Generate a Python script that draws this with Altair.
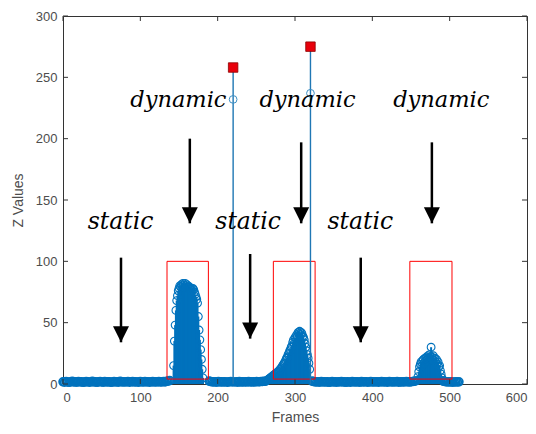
import altair as alt
import pandas as pd

BLUE = "#0072BD"

# ---- data ----
static_a_start, static_a_step = 0, 2
static_a = [1.8, 1.5, 2.0, 1.7, 1.4, 1.9, 2.2, 1.6, 1.8, 1.5,
            2.1, 1.7, 1.9, 1.4, 1.6, 2.0, 1.8, 1.5, 1.7, 2.2,
            1.6, 1.9, 1.4, 1.8, 2.0, 1.7, 1.5, 2.1, 1.6, 1.9,
            1.8, 1.4, 1.7, 2.0, 1.6, 1.9, 1.5, 2.2, 1.8, 1.6,
            1.9, 1.7, 2.0, 1.5, 1.8, 2.1, 1.6, 1.9, 1.7, 1.5,
            2.0, 1.8, 1.6, 2.1, 1.7, 1.9, 1.5, 1.8, 2.0, 1.6,
            1.9, 1.7, 2.1, 1.6, 1.8, 2.0, 1.7, 2.2, 2.4, 2.8]

dyn1_start = 143
dyn1 = [15, 35, 48, 60, 68, 72, 76, 78, 80, 79,
        81, 80, 82, 81, 79, 82, 80, 81, 79, 80,
        78, 79, 77, 78, 76, 78, 77, 75, 73, 71,
        69, 66, 55, 44, 36, 28, 20, 12, 5]

static_b_start, static_b_step = 189, 2
static_b = [2.4, 2.0, 1.8, 1.6, 1.9, 1.5, 2.0, 1.7, 1.8, 1.6, 1.9, 1.7, 1.5, 1.8, 2.0, 1.7]

spike_frames = [220, 320]
spike_circle = [232, 237]
spike_square = [258, 275]

static_c_start, static_c_step = 222, 2
static_c = [1.7, 1.9, 1.5, 2.0, 1.6, 1.8, 1.7, 1.9, 1.6, 2.0,
            1.8, 1.6, 1.9, 1.7, 2.0, 1.8, 1.9, 2.0, 2.1, 2.2, 2.3]

ramp_start = 263
ramp = [2.5, 3, 3.5, 4, 4.5, 5, 5.5, 6, 6.5, 7,
        7.5, 8, 8.5, 9, 9.5, 10, 10.5, 11.5, 12, 13,
        14, 15, 16, 17, 18, 19.5, 21, 22, 24, 25,
        27, 28, 30, 31, 34, 36, 33, 38, 37, 40,
        39, 42, 41, 43, 40, 42, 41, 39, 38, 36,
        33, 30, 27, 24, 21, 17, 12]

static_d_start, static_d_step = 322, 2
static_d = [2.4, 2.0, 1.8, 1.6, 1.9, 1.5, 2.0, 1.7, 1.8, 1.6,
            1.9, 1.4, 1.7, 2.0, 1.6, 1.8, 1.5, 1.9, 1.7, 2.1,
            1.6, 1.8, 1.4, 1.9, 1.7, 1.5, 2.0, 1.8, 1.6, 1.9,
            1.7, 1.5, 2.1, 1.6, 1.8, 1.9, 1.5, 1.7, 2.0, 1.6,
            1.8, 1.7, 1.9, 1.5, 1.8, 2.0, 1.6, 1.9, 1.7, 1.5,
            2.1, 1.8, 1.6, 1.9, 1.7, 2.0, 1.5, 1.8, 1.6, 1.9,
            1.7, 2.0, 1.8, 1.6, 1.9, 2.0, 2.2, 2.5]

dyn3_start = 458
dyn3 = [3, 6, 10, 14, 16, 18, 15, 19, 20, 17,
        21, 19, 22, 20, 23, 21, 24, 22, 30, 22,
        20, 23, 19, 21, 18, 20, 16, 18, 14, 15,
        11, 8, 5, 3]

static_e_start, static_e_step = 492, 2
static_e = [2.2, 2.0, 1.7, 1.9, 1.6, 1.8, 1.5, 1.7, 1.9, 1.6, 1.8]

# red boxes around the dynamic segments
box_x1 = [134.5, 272, 448.5]
box_x2 = [188, 326, 503]
box_y1 = [4, 4, 4]
box_y2 = [100, 100, 100]

# arrows
arrow_x = [75, 164, 242, 308, 385, 477]
arrow_top = [103, 200, 106, 197, 103, 197]
arrow_tip = [34, 131, 37, 131, 34, 131]

# annotation labels
static_text = ["static", "static", "static"]
static_x = [32, 197, 342]
static_y = [126, 126, 126]
dynamic_text = ["dynamic", "dynamic", "dynamic"]
dynamic_x = [87, 254, 427]
dynamic_y = [226, 226, 226]

x_ticks = [0, 100, 200, 300, 400, 500, 600]
y_ticks = [0, 50, 100, 150, 200, 250, 300]

# ---- assemble ----
def seg(start, vals, step=1):
    return [(start + i * step, v) for i, v in enumerate(vals)]

static_pts = (seg(static_a_start, static_a, static_a_step) + seg(static_b_start, static_b, static_b_step)
              + seg(static_c_start, static_c, static_c_step) + seg(static_d_start, static_d, static_d_step)
              + seg(static_e_start, static_e, static_e_step))
dyn_pts = seg(dyn1_start, dyn1) + seg(ramp_start, ramp) + seg(dyn3_start, dyn3)

df_s = pd.DataFrame(static_pts, columns=["frame", "z"]).assign(zero=0)
df_d = pd.DataFrame(dyn_pts, columns=["frame", "z"]).assign(zero=0)
spk = pd.DataFrame({"frame": spike_frames, "c": spike_circle, "s": spike_square, "zero": 0})
boxes = pd.DataFrame({"x1": box_x1, "x2": box_x2, "y1": box_y1, "y2": box_y2})
arrows = pd.DataFrame({"x": arrow_x, "top": arrow_top, "tip": arrow_tip})
slabels = pd.DataFrame({"t": static_text, "x": static_x, "y": static_y})
dlabels = pd.DataFrame({"t": dynamic_text, "x": dynamic_x, "y": dynamic_y})
xt = pd.DataFrame({"t": x_ticks})
yt = pd.DataFrame({"t": y_ticks})

W, H = 464, 368
xs = alt.Scale(domain=[0, 600], nice=False)
ys = alt.Scale(domain=[0, 300], nice=False)

axis_common = dict(domain=False, ticks=False, grid=False, labelFont="Liberation Sans",
                   labelFontSize=13, labelColor="#4d4d4d", titleFont="Liberation Sans",
                   titleFontSize=14, titleFontWeight="normal", titleColor="#4d4d4d")

X = alt.X("frame:Q", scale=xs, axis=alt.Axis(values=x_ticks, title="Frames", labelPadding=7,
                                            titlePadding=6, labelOverlap=False,
                                            labelBound=False, **axis_common))
Y = alt.Y("z:Q", scale=ys, axis=alt.Axis(values=y_ticks, title="Z Values", labelPadding=6,
                                        titlePadding=10, **axis_common))

stems_d = alt.Chart(df_d).mark_rule(color=BLUE, strokeWidth=2, clip=False).encode(
    x=X, y=Y, y2="zero:Q")
circ_d = alt.Chart(df_d).mark_point(shape="circle", filled=False, color=BLUE, size=60,
                                    strokeWidth=1.1, opacity=1, clip=False).encode(x=X, y=Y)
stems_s = alt.Chart(df_s).mark_rule(color=BLUE, strokeWidth=1.5, clip=False).encode(
    x=X, y=Y, y2="zero:Q")
circ_s = alt.Chart(df_s).mark_point(shape="circle", filled=False, color=BLUE, size=60,
                                    strokeWidth=1.8, opacity=1, clip=False).encode(x=X, y=Y)

spk_stem = alt.Chart(spk).mark_rule(color="#1f77b4", strokeWidth=1.4).encode(
    x=alt.X("frame:Q", scale=xs), y=alt.Y("s:Q", scale=ys), y2="zero:Q")
spk_circ = alt.Chart(spk).mark_point(shape="circle", filled=False, color="#3d8fc4", size=60,
                                     strokeWidth=1, opacity=1).encode(
    x=alt.X("frame:Q", scale=xs), y=alt.Y("c:Q", scale=ys))
spk_sq = alt.Chart(spk).mark_point(shape="square", filled=True, fill="#e8000b", stroke="#8b0000",
                                   strokeWidth=0.8, size=90, opacity=1).encode(
    x=alt.X("frame:Q", scale=xs), y=alt.Y("s:Q", scale=ys))

rects = alt.Chart(boxes).mark_rect(fillOpacity=0, stroke="#ff0000", strokeWidth=1).encode(
    x=alt.X("x1:Q", scale=xs), x2="x2:Q", y=alt.Y("y1:Q", scale=ys), y2="y2:Q")

arrow_line = alt.Chart(arrows).mark_rule(color="black", strokeWidth=2.5).encode(
    x=alt.X("x:Q", scale=xs), y=alt.Y("top:Q", scale=ys), y2="tip:Q")
arrow_head = alt.Chart(arrows).mark_point(shape="M -1 -2 L 1 -2 L 0 0 Z", filled=True,
                                          color="black", size=256, opacity=1).encode(
    x=alt.X("x:Q", scale=xs), y=alt.Y("tip:Q", scale=ys))

stext = alt.Chart(slabels).mark_text(font="DejaVu Serif", fontStyle="italic", fontSize=23.5,
                                     align="left", baseline="alphabetic", color="black").encode(
    x=alt.X("x:Q", scale=xs), y=alt.Y("y:Q", scale=ys), text="t:N")
dtext = alt.Chart(dlabels).mark_text(font="DejaVu Serif", fontStyle="italic", fontSize=22.5,
                                     align="left", baseline="alphabetic", color="black").encode(
    x=alt.X("x:Q", scale=xs), y=alt.Y("y:Q", scale=ys), text="t:N")

tick_b = alt.Chart(xt).mark_rule(color="#333333").encode(
    x=alt.X("t:Q", scale=xs), y=alt.value(H), y2=alt.value(H - 5))
tick_t = alt.Chart(xt).mark_rule(color="#333333").encode(
    x=alt.X("t:Q", scale=xs), y=alt.value(0), y2=alt.value(5))
tick_l = alt.Chart(yt).mark_rule(color="#333333").encode(
    y=alt.Y("t:Q", scale=ys), x=alt.value(0), x2=alt.value(5))
tick_r = alt.Chart(yt).mark_rule(color="#333333").encode(
    y=alt.Y("t:Q", scale=ys), x=alt.value(W), x2=alt.value(W - 5))

chart = alt.layer(
    stems_s, circ_s, stems_d, circ_d, tick_b, tick_t, tick_l, tick_r, rects,
    spk_stem, spk_circ, spk_sq, arrow_line, arrow_head, stext, dtext
).properties(
    width=W, height=H, autosize="none",
    padding={"left": 55, "top": 8, "right": 1, "bottom": 40},
    background="white",
).configure_view(stroke="#333333", strokeWidth=1)

chart.save("out.html", embed_options={"renderer": "svg", "actions": False})
